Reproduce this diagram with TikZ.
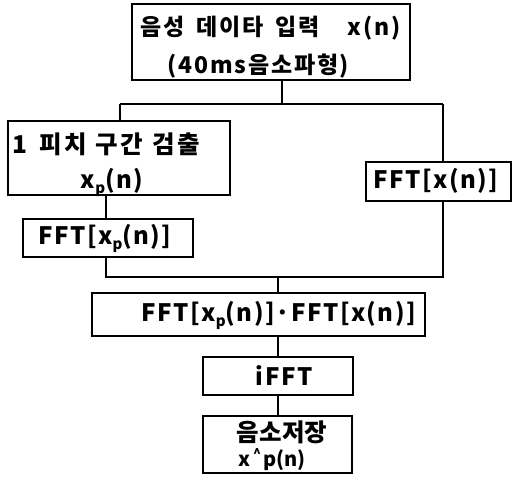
\documentclass[tikz,border=0pt]{standalone}
\usepackage{fontspec}
\setmainfont{Noto Sans CJK KR}
\newcommand\subp{\raisebox{-5pt}{\fontsize{15}{15}\selectfont p}}
\begin{document}
\begin{tikzpicture}[x=1pt,y=-1pt,
  box/.style={draw,line width=1.3pt,rectangle,inner sep=0pt},
  wire/.style={line width=1.1pt},
  txt/.style={inner sep=0pt,font=\fontsize{23}{26}\selectfont\bfseries\addfontfeature{LetterSpace=8}},
  big/.style={inner sep=0pt,font=\fontsize{24.5}{28}\selectfont\bfseries\addfontfeature{LetterSpace=10}},
  lat/.style={inner sep=0pt,font=\fontsize{24}{26}\selectfont\bfseries\addfontfeature{LetterSpace=6}}]
\useasboundingbox (0,0) rectangle (513,476);
% boxes
\node[box,minimum width=278,minimum height=76] (b1) at (271,42) {};
\node[box,minimum width=222,minimum height=74] (b2) at (119,158) {};
\node[box,minimum width=145,minimum height=39] (b7) at (438.5,181.5) {};
\node[box,minimum width=170,minimum height=38] (b3) at (108,238) {};
\node[box,minimum width=333,minimum height=43] (b4) at (258.5,314.5) {};
\node[box,minimum width=150,minimum height=38] (b5) at (278,376) {};
\node[box,minimum width=149,minimum height=57] (b6) at (277.5,444.5) {};
% texts
\node[txt,anchor=west] (t1a) at (140,28) {음성\hspace{12pt}데이타\hspace{12pt}입력\hspace{28pt}x(n)};
\node[txt] (t1b) at (258,66) {(\hspace{2pt}40ms음소파형\hspace{1pt})};
\node[big,anchor=west] (t2a) at (12,144) {1\hspace{12pt}피치\hspace{9pt}구간\hspace{9pt}검출};
\node[lat] (t2b) at (112,182) {x\subp(n)};
\node[lat] (t7) at (436,181) {FFT[x(n)]};
\node[lat] (t3) at (105,238) {FFT[x\subp(n)]};
\node[lat,anchor=east] (t4) at (416,315) {FFT[x\subp(n)]\hspace{1pt}·\hspace{1pt}FFT[x(n)]};
\node[lat] (t5) at (284,376) {i\hspace{2pt}FFT};
\node[txt,font=\fontsize{24.5}{26}\selectfont\bfseries] (t6a) at (282,432) {음소저장};
\node[inner sep=0pt,font=\fontsize{20}{22}\selectfont\bfseries,anchor=base west] (t6b) at (238,466)
  {x\hspace{3pt}\raisebox{8pt}{\fontsize{13}{13}\selectfont\^{}}\hspace{2pt}p(n)};
% connectors
\coordinate (j1) at (282,104);
\coordinate (jl) at (120,104);
\coordinate (jr) at (443,104);
\coordinate (k1) at (278,277);
\coordinate (kl) at (106,277);
\coordinate (kr) at (443,277);
\draw[wire] (b1.south -| j1) -- (j1);
\draw[wire] (jl) -- (jr);
\draw[wire] (jl) -- (b2.north -| jl);
\draw[wire] (jr) -- (b7.north -| jr);
\draw[wire] (b2.south -| kl) -- (b3.north -| kl);
\draw[wire] (b3.south -| kl) -- (kl) -- (kr) -- (b7.south -| kr);
\draw[wire] (k1) -- (b4.north -| k1);
\draw[wire] (b4.south -| k1) -- (b5.north -| k1);
\draw[wire] (b5.south -| k1) -- (b6.north -| k1);
\end{tikzpicture}
\end{document}
